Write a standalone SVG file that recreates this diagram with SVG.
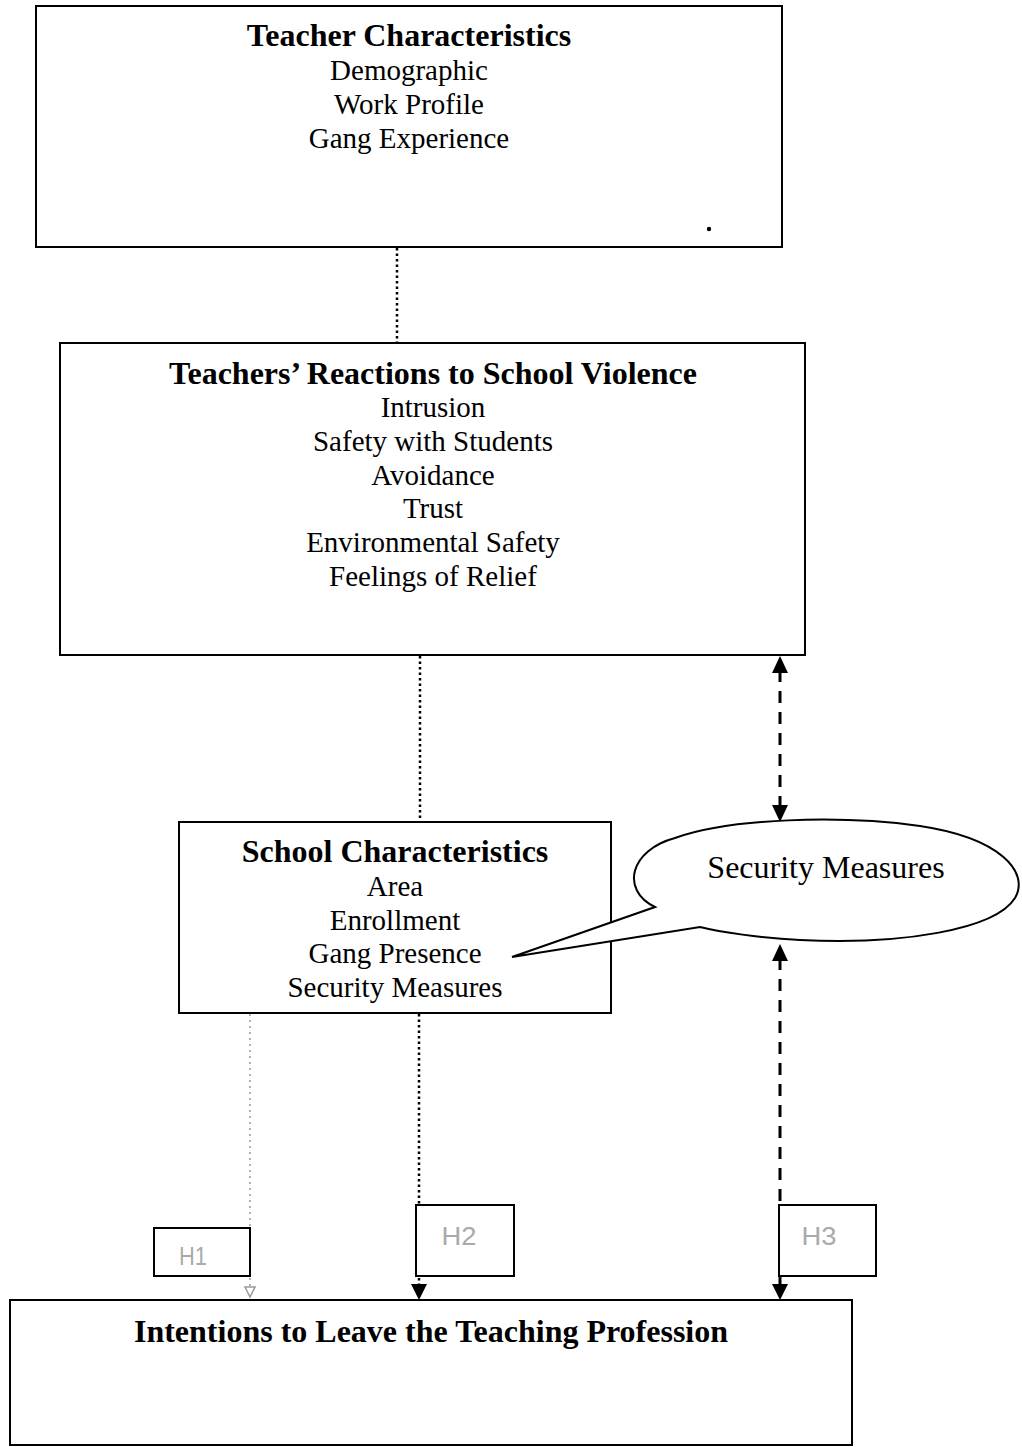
<svg xmlns="http://www.w3.org/2000/svg" width="1022" height="1447" viewBox="0 0 1022 1447">
<style>
.box{fill:#fff;stroke:#000;stroke-width:2}
.hbox{fill:#fff;stroke:#000;stroke-width:2}
.t{font-family:"Liberation Serif","Times New Roman",serif;font-size:29px;fill:#000;text-anchor:middle}
.b{font-weight:bold;font-size:32px}
.h{font-family:"Liberation Sans",Arial,sans-serif;font-size:26px;fill:#aaa;text-anchor:middle}
.dot{fill:none;stroke:#000;stroke-width:2.5;stroke-dasharray:2.5 3}
.dash{fill:none;stroke:#000;stroke-width:3;stroke-dasharray:12 9}
.gdot{fill:none;stroke:#999;stroke-width:1.5;stroke-dasharray:2 4}
.ah{fill:#000}
</style>
<g id="connectors">
<line class="dot" x1="397" y1="248" x2="397" y2="342"/>
<line class="dot" x1="420" y1="656" x2="420" y2="821"/>
<line class="dash" x1="780" y1="670" x2="780" y2="808"/>
<polygon class="ah" points="780,656 772,673 788,673"/>
<polygon class="ah" points="780,822 772,805 788,805"/>
<line class="dash" x1="780" y1="958" x2="780" y2="1286"/>
<polygon class="ah" points="780,944 772,961 788,961"/>
<polygon class="ah" points="780,1300 772,1284 788,1284"/>
<line class="dot" x1="419" y1="1014" x2="419" y2="1286"/>
<polygon class="ah" points="419,1300 411,1284 427,1284"/>
<line class="gdot" x1="250" y1="1014" x2="250" y2="1287"/>
<polygon points="250,1297 245,1287 255,1287" fill="#fff" stroke="#999" stroke-width="1.5"/>
</g>
<g id="teacher-characteristics">
<rect class="box" x="36" y="6" width="746" height="241"/>
<text class="t b" x="409" y="46">Teacher Characteristics</text>
<text class="t" x="409" y="80">Demographic</text>
<text class="t" x="409" y="114">Work Profile</text>
<text class="t" x="409" y="148">Gang Experience</text>
<circle cx="709" cy="229" r="2.2" fill="#000"/>
</g>
<g id="teachers-reactions">
<rect class="box" x="60" y="343" width="745" height="312"/>
<text class="t b" x="433" y="384">Teachers’ Reactions to School Violence</text>
<text class="t" x="433" y="417">Intrusion</text>
<text class="t" x="433" y="451">Safety with Students</text>
<text class="t" x="433" y="485">Avoidance</text>
<text class="t" x="433" y="518">Trust</text>
<text class="t" x="433" y="552">Environmental Safety</text>
<text class="t" x="433" y="586">Feelings of Relief</text>
</g>
<g id="school-characteristics">
<rect class="box" x="179" y="822" width="432" height="191"/>
<text class="t b" x="395" y="862">School Characteristics</text>
<text class="t" x="395" y="896">Area</text>
<text class="t" x="395" y="930">Enrollment</text>
<text class="t" x="395" y="963">Gang Presence</text>
<text class="t" x="395" y="997">Security Measures</text>
</g>
<g id="security-measures">
<path d="M655,907 C620,890 630,850 675,838 C730,818 840,815 920,826 C1000,838 1030,872 1015,898 C995,930 900,945 800,940 C760,938 720,932 700,927 L512,957 Z" fill="#fff" stroke="#000" stroke-width="2"/>
<text class="t" x="826" y="878" style="font-size:32px">Security Measures</text>
</g>
<g id="h1">
<rect class="hbox" x="154" y="1228" width="96" height="48"/>
<text class="h" x="193" y="1265" textLength="28" lengthAdjust="spacingAndGlyphs">H1</text>
</g>
<g id="h2">
<rect class="hbox" x="416" y="1205" width="98" height="71"/>
<text class="h" x="459" y="1245" textLength="35" lengthAdjust="spacingAndGlyphs">H2</text>
</g>
<g id="h3">
<rect class="hbox" x="779" y="1205" width="97" height="71"/>
<text class="h" x="819" y="1245" textLength="35" lengthAdjust="spacingAndGlyphs">H3</text>
</g>
<g id="intentions">
<rect class="box" x="10" y="1300" width="842" height="145"/>
<text class="t b" x="431" y="1342">Intentions to Leave the Teaching Profession</text>
</g>
</svg>
